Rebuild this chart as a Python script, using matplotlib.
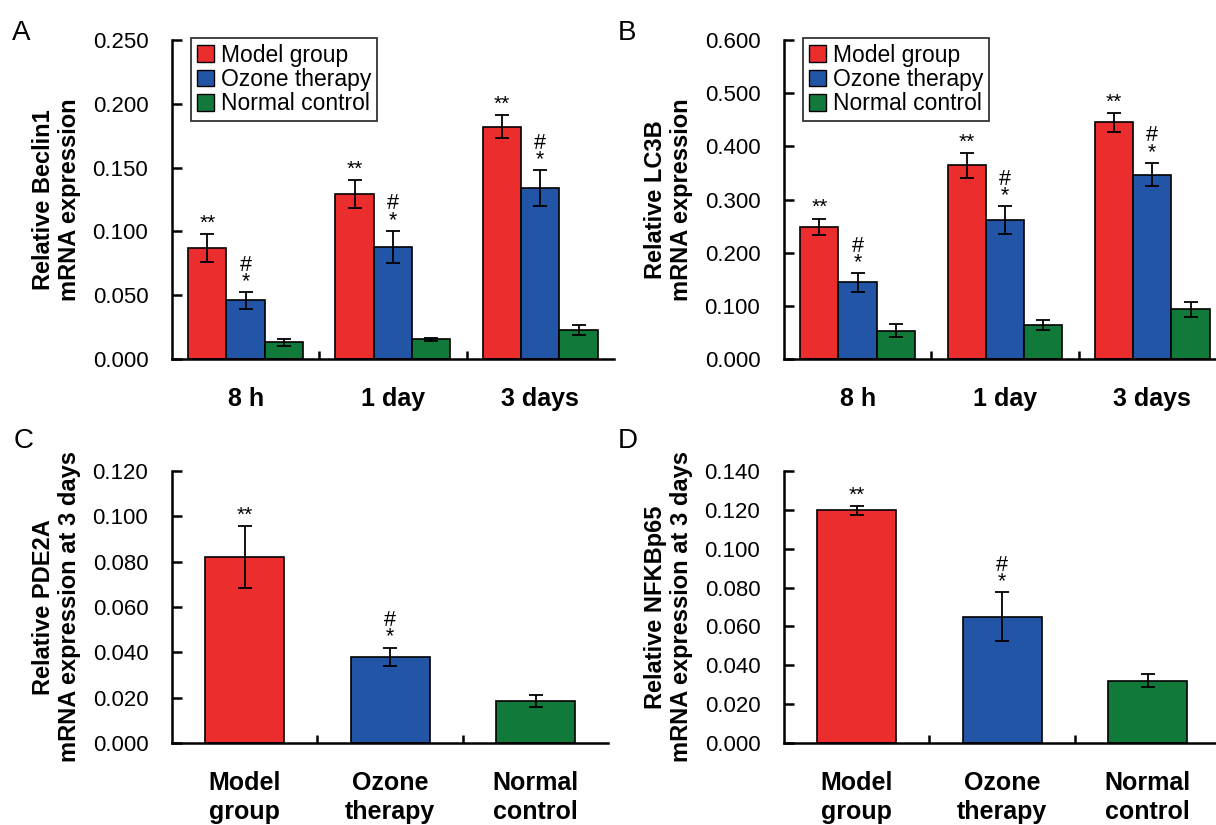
import numpy as np
import matplotlib
matplotlib.use("Agg")
import matplotlib.pyplot as plt
from matplotlib.patches import Patch

plt.rcParams['font.family'] = ['Liberation Sans', 'DejaVu Sans']

groups = ["Model group", "Ozone therapy", "Normal control"]
colors = ["#EB2D2E", "#2255A6", "#117A3B"]

times = ["8 h", "1 day", "3 days"]
beclin_mean = [[0.087, 0.129, 0.182], [0.046, 0.088, 0.134], [0.013, 0.0155, 0.023]]
beclin_err = [[0.011, 0.011, 0.009], [0.0065, 0.0125, 0.014], [0.003, 0.001, 0.004]]
lc3b_mean = [[0.249, 0.364, 0.445], [0.144, 0.261, 0.347], [0.053, 0.064, 0.094]]
lc3b_err = [[0.015, 0.024, 0.018], [0.017, 0.026, 0.022], [0.012, 0.009, 0.014]]

groups_2line = ["Model\ngroup", "Ozone\ntherapy", "Normal\ncontrol"]
pde2a_mean = [0.082, 0.038, 0.0185]
pde2a_err = [0.0138, 0.0041, 0.0026]
nfkb_mean = [0.1198, 0.065, 0.032]
nfkb_err = [0.0022, 0.0125, 0.0033]

fig = plt.figure(figsize=(12.16, 8.25), dpi=100)
axA = fig.add_axes([0.1414, 0.5648, 0.3635, 0.3867])
axB = fig.add_axes([0.6447, 0.5648, 0.3635, 0.3867])
axC = fig.add_axes([0.1414, 0.0994, 0.359, 0.3297])
axD = fig.add_axes([0.6447, 0.0994, 0.359, 0.3297])


def style(ax, ymax, step, ylabel):
    ax.spines['top'].set_visible(False)
    ax.spines['right'].set_visible(False)
    ax.spines['left'].set_linewidth(1.8)
    ax.spines['bottom'].set_linewidth(1.8)
    ax.set_xlim(-0.5, 2.5)
    ax.set_ylim(0, ymax)
    ax.set_yticks(np.arange(0, ymax + step / 2, step))
    ax.yaxis.set_major_formatter(matplotlib.ticker.FormatStrFormatter('%.3f'))
    ax.tick_params(axis='y', direction='in', length=7, width=1.8, labelsize=16, pad=17)
    ax.set_xticks([0.5, 1.5], minor=True)
    ax.tick_params(axis='x', which='minor', direction='in', length=6, width=1.8)
    ax.tick_params(axis='x', which='major', length=0, labelsize=18, pad=20)
    for t in ax.get_xticklabels():
        t.set_fontweight('bold')
    ax.set_ylabel(ylabel, fontsize=17, fontweight='bold', labelpad=8, linespacing=1.2)


def mark(ax, x, top, kind):
    if kind == "**":
        ax.annotate("**", (x, top), xytext=(0, 1), textcoords='offset points',
                    ha='center', va='bottom', fontsize=15)
    else:
        ax.annotate("#\n*", (x, top), xytext=(0, 0), textcoords='offset points',
                    ha='center', va='bottom', fontsize=15.5, linespacing=0.72)


def grouped(ax, means, errs):
    w = 0.26
    x = np.arange(len(times))
    for i in range(3):
        xi = x + (i - 1) * w
        ax.bar(xi, means[i], w, color=colors[i], edgecolor='black', linewidth=1.2,
               yerr=errs[i], capsize=5, error_kw=dict(elinewidth=1.3, capthick=1.3))
        for j in range(3):
            if i == 0:
                mark(ax, xi[j], means[i][j] + errs[i][j], "**")
            elif i == 1:
                mark(ax, xi[j], means[i][j] + errs[i][j], "#*")
    ax.set_xticks(x)
    ax.set_xticklabels(times)
    handles = [Patch(facecolor=c, edgecolor='black') for c in colors]
    leg = ax.legend(handles, groups, loc='upper left', bbox_to_anchor=(0.043, 1.006),
                    fontsize=16.5, frameon=True, fancybox=False, handlelength=0.75,
                    handleheight=0.75, handletextpad=0.3, borderpad=0.25, labelspacing=0.05,
                    borderaxespad=0)
    leg.get_frame().set_edgecolor('black')
    leg.get_frame().set_linewidth(1.3)


def single(ax, means, errs):
    x = np.arange(3)
    ax.bar(x, means, 0.54, color=colors, edgecolor='black', linewidth=1.2,
           yerr=errs, capsize=5, error_kw=dict(elinewidth=1.3, capthick=1.3))
    mark(ax, x[0], means[0] + errs[0], "**")
    mark(ax, x[1], means[1] + errs[1], "#*")
    ax.set_xticks(x)
    ax.set_xticklabels(groups_2line, linespacing=1.25)


grouped(axA, beclin_mean, beclin_err)
style(axA, 0.25, 0.05, "Relative Beclin1\nmRNA expression")
grouped(axB, lc3b_mean, lc3b_err)
style(axB, 0.6, 0.1, "Relative LC3B\nmRNA expression")
single(axC, pde2a_mean, pde2a_err)
style(axC, 0.12, 0.02, "Relative PDE2A\nmRNA expression at 3 days")
single(axD, nfkb_mean, nfkb_err)
style(axD, 0.14, 0.02, "Relative NFKBp65\nmRNA expression at 3 days")

for lab, x, y in [("A", 0.010, 0.951), ("B", 0.508, 0.952), ("C", 0.011, 0.457), ("D", 0.508, 0.457)]:
    fig.text(x, y, lab, fontsize=20, ha='left', va='baseline')

fig.savefig("out.png", dpi=100)
